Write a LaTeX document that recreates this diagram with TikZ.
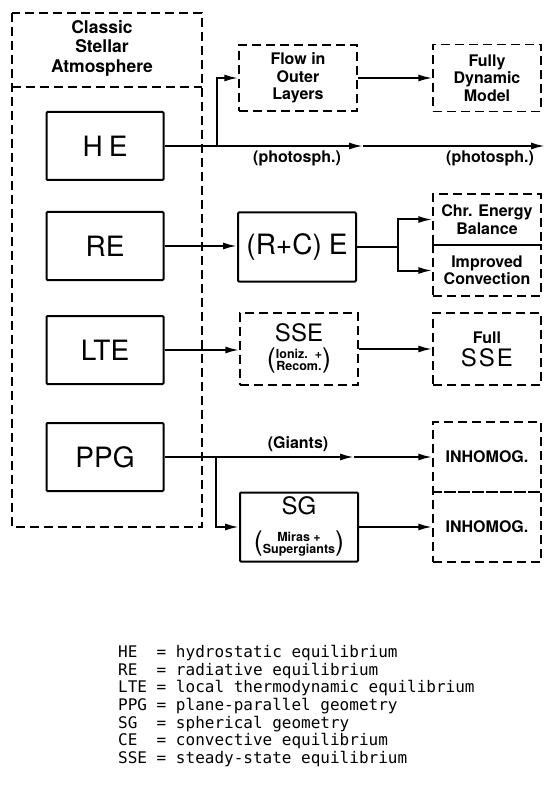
\documentclass[tikz,border=0pt]{standalone}
\usepackage{fontspec}
\setmainfont{TeX Gyre Heros}
\setmonofont{DejaVu Sans Mono}
\usepackage{tikz}
\usetikzlibrary{arrows.meta, positioning}

\newcommand{\bigtxt}{\fontsize{28}{30}\selectfont}
\newcommand{\midtxt}{\mdseries\fontsize{24}{25}\selectfont}
\newcommand{\smalltxt}{\fontsize{16}{17.5}\selectfont\bfseries}
\newcommand{\tinytxt}{\fontsize{12.5}{13}\selectfont\bfseries}
\newcommand{\legendtxt}{\fontsize{16}{17.7}\selectfont\ttfamily}
\newcommand{\bigparen}[1]{{\mdseries\fontsize{27}{27}\selectfont\raisebox{-3pt}{#1}}}
\newcommand{\parenpair}[2]{\bigparen{(}{\tinytxt\renewcommand{\arraystretch}{0.85}\begin{tabular}{@{}c@{}}#1\\#2\end{tabular}}\bigparen{)}}

\begin{document}
\begin{tikzpicture}[x=1pt, y=-1pt,
    solidbox/.style={draw, line width=2pt, rounded corners=1pt, inner sep=0pt,
        minimum width=117pt, minimum height=68pt, font=\bigtxt},
    dashbox/.style={draw, line width=1.5pt, dash pattern=on 9pt off 5pt, inner sep=0pt,
        align=center, font=\smalltxt},
    arr/.style={line width=2pt, -{Latex[length=14pt, width=7pt]}},
    lbl/.style={font=\smalltxt, inner sep=0pt}]
    \useasboundingbox (0,0) rectangle (546,799);

    % --- Classic atmosphere (Left) ---
    \draw[line width=1.5pt, dash pattern=on 9pt off 5pt] (12,13) rectangle (202,527);
    \draw[line width=1.5pt, dash pattern=on 9pt off 5pt] (12,87) -- (202,87);
    \node[font=\fontsize{17.5}{19.5}\selectfont\bfseries, align=center] (title) at (102,48) {Classic\\Stellar\\Atmosphere};
    \node[solidbox] (he) at (105,146) {H\kern6pt E};
    \node[solidbox] (re) at (105,246) {RE};
    \node[solidbox] (lte) at (105,350) {LTE};
    \node[solidbox] (ppg) at (105,457) {PPG};

    % --- Extensions (Middle) ---
    \node[dashbox, minimum width=118pt, minimum height=66pt] (flow) at (298,78) {Flow in\\Outer\\Layers};
    \node[solidbox, minimum width=118pt, minimum height=69pt] (rce) at (297,247) {(R+C)\kern7pt E};
    \node[dashbox, minimum width=118pt, minimum height=72pt] (sse) at (299,349) {{\midtxt SSE}\\[5pt]\parenpair{Ioniz.\ \ +}{Recom.}};
    \node[solidbox, minimum width=118pt, minimum height=69pt, align=center] (sg) at (299,527) {{\midtxt SG}\\[3pt]\parenpair{Miras +}{Supergiants}};

    % --- Full models (Right) ---
    \node[dashbox, minimum width=108pt, minimum height=67pt] (fully) at (487,78) {Fully\\Dynamic\\Model};
    \node[dashbox, minimum width=108pt, minimum height=51pt] (chr) at (487,219.5) {Chr. Energy\\Balance};
    \node[dashbox, minimum width=108pt, minimum height=51pt] (impr) at (487,270.5) {Improved\\Convection};
    \node[dashbox, minimum width=108pt, minimum height=72pt] (fullsse) at (487,349) {Full\\[4pt]{\midtxt S\kern2pt S\kern2pt E}};
    \node[dashbox, minimum width=108pt, minimum height=70pt] (inh1) at (487,457) {INHOMOG.};
    \node[dashbox, minimum width=108pt, minimum height=70pt] (inh2) at (487,527) {INHOMOG.};

    % --- Connectors ---
    \coordinate (hebr) at (217,146);
    \coordinate (hemid) at (363,146);
    \coordinate (heend) at (545,146);
    \draw[arr] (he.east) -- (hemid);
    \draw[arr] (hemid) -- (heend);
    \draw[arr] (hebr) |- (flow.west);
    \draw[arr, line width=1.6pt] (flow.east) -- (fully.west);
    \node[lbl] (ph1) at (297,158) {(photosph.)};
    \node[lbl] (ph2) at (490,158) {(photosph.)};

    \coordinate (rcebr) at (398,247);
    \draw[arr] (re.east) -- (re.east -| rce.west);
    \draw[line width=2pt] (rce.east) -- (rcebr);
    \draw[arr] (rcebr) |- (chr.west);
    \draw[arr] (rcebr) |- (impr.west);

    \draw[arr] (lte.east) -- (lte.east -| sse.west);
    \draw[arr] (sse.east) -- (fullsse.west);

    \coordinate (ppgbr) at (216,457);
    \coordinate (ppgmid) at (354,457);
    \draw[arr] (ppg.east) -- (ppgmid);
    \draw[arr] (ppgmid) -- (ppg.east -| inh1.west);
    \node[lbl] (giants) at (298,444) {(Giants)};
    \draw[arr] (ppgbr) |- (sg.west);
    \draw[arr] (sg.east) -- (inh2.west);

    % --- Legend ---
    \node[anchor=north west, align=left, font=\legendtxt, inner sep=0pt] (legend) at (118,645) {%
        HE~~= hydrostatic equilibrium\\
        RE~~= radiative equilibrium\\
        LTE = local thermodynamic equilibrium\\
        PPG = plane-parallel geometry\\
        SG~~= spherical geometry\\
        CE~~= convective equilibrium\\
        SSE = steady-state equilibrium};
\end{tikzpicture}
\end{document}
